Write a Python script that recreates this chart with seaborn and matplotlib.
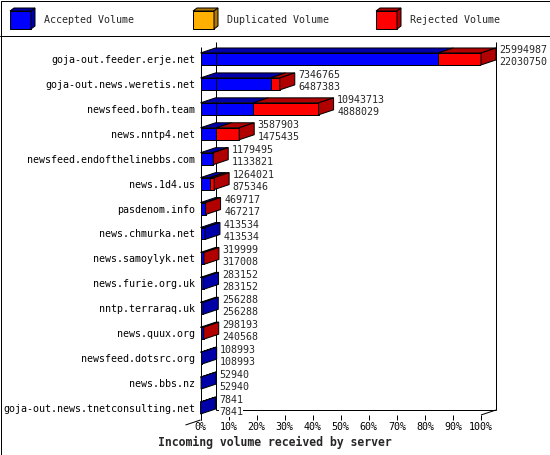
import numpy as np
import matplotlib
matplotlib.use("Agg")
import matplotlib.pyplot as plt
import seaborn as sns
from matplotlib.patches import Polygon, Rectangle

# =========================
# data
# =========================
hosts = [
    "goja-out.feeder.erje.net",
    "goja-out.news.weretis.net",
    "newsfeed.bofh.team",
    "news.nntp4.net",
    "newsfeed.endofthelinebbs.com",
    "news.1d4.us",
    "pasdenom.info",
    "news.chmurka.net",
    "news.samoylyk.net",
    "news.furie.org.uk",
    "nntp.terraraq.uk",
    "news.quux.org",
    "newsfeed.dotsrc.org",
    "news.bbs.nz",
    "goja-out.news.tnetconsulting.net",
]
total_volume = [25994987, 7346765, 10943713, 3587903, 1179495, 1264021, 469717,
                413534, 319999, 283152, 256288, 298193, 108993, 52940, 7841]
accepted_volume = [22030750, 6487383, 4888029, 1475435, 1133821, 875346, 467217,
                   413534, 317008, 283152, 256288, 240568, 108993, 52940, 7841]

legend_labels = ["Accepted Volume", "Duplicated Volume", "Rejected Volume"]
tick_values = list(range(0, 101, 10))
tick_labels = [f"{v}%" for v in tick_values]
title = "Incoming volume received by server"

# =========================
# style
# =========================
blue, blue_dark = "#0000ff", "#0000a8"
orange, orange_dark = "#ffb000", "#b07800"
red, red_dark = "#ff0000", "#b00000"
lw = 0.72

sns.set_style("white")
plt.rcParams["font.family"] = ["DejaVu Sans Mono"]
plt.rcParams["font.size"] = 7.2

max_total = max(total_volume)
total_pct = [v / max_total * 100 for v in total_volume]
accepted_pct = [v / max_total * 100 for v in accepted_volume]

W, H = 550, 455
ax_left, ax_right, ax_top, ax_bottom = 200.5, 481.0, 47.0, 415.0
y_lo, y_hi = 14.28, -0.48
bar_w = 0.48
depth_x, depth_y = 15, 5  # pixels

fig = plt.figure(figsize=(W / 100, H / 100), dpi=100)
fig.patch.set_facecolor("white")
ax = fig.add_axes([ax_left / W, 1 - ax_bottom / H,
                   (ax_right - ax_left) / W, (ax_bottom - ax_top) / H])

# front faces
sns.barplot(x=total_pct, y=hosts, color=red, saturation=1, width=bar_w,
            edgecolor="black", linewidth=lw, errorbar=None, orient="h", ax=ax)
sns.barplot(x=accepted_pct, y=hosts, color=blue, saturation=1, width=bar_w,
            edgecolor="black", linewidth=lw, errorbar=None, orient="h", ax=ax)

ax.set_xlim(0, 100)
ax.set_ylim(y_lo, y_hi)

# pixel -> data offsets for the fake depth
ddx = depth_x / ((ax_right - ax_left) / 100)
px_y = 1 / ((ax_bottom - ax_top) / (y_lo - y_hi))
ddy = depth_y * px_y

# walls and floor
line_kw = dict(color="black", lw=lw, clip_on=False, solid_capstyle="butt")
ax.plot([ddx, ddx], [y_hi - ddy, y_lo - ddy], **line_kw)
ax.plot([100 + ddx, 100 + ddx], [y_hi - ddy, y_lo - ddy], **line_kw)
ax.plot([ddx, 100 + ddx], [y_lo - ddy, y_lo - ddy], **line_kw)
ax.plot([100, 100 + ddx], [y_lo, y_lo - ddy], **line_kw)
ax.plot([0, 0], [y_hi, y_lo + 5 * px_y], **line_kw)
ax.plot([0, -ddx], [y_lo + 5 * px_y, y_lo + 5 * px_y + ddy], **line_kw)

# top and side faces + value labels
lab_box = dict(fc="white", ec="none", pad=0)
for i in range(len(hosts)):
    top = i - bar_w / 2
    bot = i + bar_w / 2
    segs = [(0, accepted_pct[i], blue_dark)]
    if total_pct[i] > accepted_pct[i]:
        segs.append((accepted_pct[i], total_pct[i], red_dark))
    for x0, x1, cd in segs:
        ax.add_patch(Polygon([(x0, top), (x1, top), (x1 + ddx, top - ddy), (x0 + ddx, top - ddy)],
                             closed=True, fc=cd, ec="black", lw=lw, clip_on=False, zorder=3))
    x1, cd = segs[-1][1], segs[-1][2]
    ax.add_patch(Polygon([(x1, top), (x1 + ddx, top - ddy), (x1 + ddx, bot - ddy), (x1, bot)],
                         closed=True, fc=cd, ec="black", lw=lw, clip_on=False, zorder=3))

    ax.annotate(f"{total_volume[i]}", xy=(total_pct[i], i), xytext=(18.5, 8.5),
                textcoords="offset pixels", ha="left", va="center",
                annotation_clip=False, bbox=lab_box, zorder=4)
    ax.annotate(f"{accepted_volume[i]}", xy=(total_pct[i], i), xytext=(18.5, -3.5),
                textcoords="offset pixels", ha="left", va="center",
                annotation_clip=False, bbox=lab_box, zorder=4)

for s in ax.spines.values():
    s.set_visible(False)
ax.set_xticks(tick_values)
ax.set_xticklabels(tick_labels)
ax.tick_params(axis="x", direction="out", length=3.6, width=lw, pad=1.5,
               colors="black", bottom=True)
ax.tick_params(axis="y", length=0, pad=3.6, colors="black")
ax.set_xlabel("")
ax.set_ylabel("")

fig.text(275 / W, 1 - 442 / H, title, ha="center", va="center",
         fontsize=8.3, fontweight="bold")

# =========================
# legend + frame (pixel overlay)
# =========================
ov = fig.add_axes([0, 0, 1, 1])
ov.set_xlim(0, W)
ov.set_ylim(H, 0)
ov.axis("off")
ov.patch.set_alpha(0)

leg_x = [10, 193, 376]
leg_colors = [(blue, blue_dark), (orange, orange_dark), (red, red_dark)]
for x0, lab, (c, cd) in zip(leg_x, legend_labels, leg_colors):
    ov.add_patch(Rectangle((x0, 11), 21, 18, fc=c, ec="black", lw=lw))
    ov.add_patch(Polygon([(x0, 11), (x0 + 21, 11), (x0 + 25, 8), (x0 + 4, 8)],
                         closed=True, fc=cd, ec="black", lw=lw))
    ov.add_patch(Polygon([(x0 + 21, 11), (x0 + 25, 8), (x0 + 25, 26), (x0 + 21, 29)],
                         closed=True, fc=cd, ec="black", lw=lw))
    ov.text(x0 + 34, 20, lab, ha="left", va="center")

ov.plot([0, W], [36, 36], color="black", lw=lw)
ov.add_patch(Rectangle((0.5, 0.5), W - 1, H - 1, fill=False, ec="black", lw=lw))

fig.savefig("out.png", dpi=100, facecolor="white")
